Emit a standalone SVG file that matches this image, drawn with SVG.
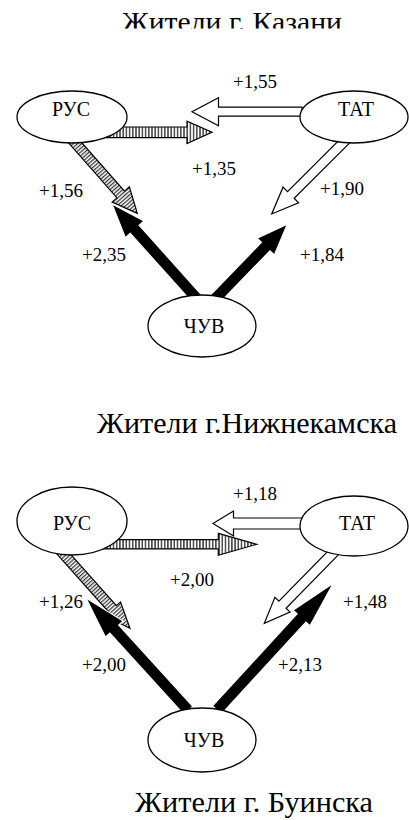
<svg xmlns="http://www.w3.org/2000/svg" width="409" height="820" viewBox="0 0 409 820">
<style>
  .node { fill: #fff; stroke: #000; stroke-width: 1.3; }
  .hollow { fill: #fff; stroke: #000; stroke-width: 1.2; stroke-linejoin: miter; }
  .hatchv { fill: url(#hv); stroke: #000; stroke-width: 1.2; }
  .hatchd { fill: url(#hd); stroke: #000; stroke-width: 1.2; }
  .solid { fill: #000; stroke: #fff; stroke-width: 1.2; }
</style>
<defs>
  <pattern id="hv" patternUnits="userSpaceOnUse" width="3.2" height="10">
    <rect width="3.2" height="10" fill="#fff"/>
    <line x1="0.8" y1="0" x2="0.8" y2="10" stroke="#000" stroke-width="1.1"/>
  </pattern>
  <pattern id="hd" patternUnits="userSpaceOnUse" width="2.8" height="10">
    <rect width="2.8" height="10" fill="#fff"/>
    <line x1="0.7" y1="0" x2="0.7" y2="10" stroke="#000" stroke-width="1"/>
  </pattern>
  <clipPath id="clipTitle1">
    <rect x="0" y="0" width="409" height="28.5"/>
  </clipPath>
</defs>

<g id="titles">
  <text font-family="Liberation Serif" font-size="28" x="122" y="31" textLength="220" lengthAdjust="spacingAndGlyphs" clip-path="url(#clipTitle1)">Жители г. Казани</text>
  <text font-family="Liberation Serif" font-size="30" x="97" y="433" textLength="300" lengthAdjust="spacingAndGlyphs">Жители г.Нижнекамска</text>
  <text font-family="Liberation Serif" font-size="30" x="135" y="812" textLength="238" lengthAdjust="spacingAndGlyphs">Жители г. Буинска</text>
</g>

<g id="connectors">
  <polygon id="c-tat-rus-1" class="hollow" transform="translate(192,111.7) rotate(180)" points="-110,-4.5 -26.5,-4.5 -26.5,-14 0,0 -26.5,14 -26.5,4.5 -110,4.5"/>
  <polygon id="c-rus-right-1" class="hatchv" transform="translate(212,132.3)" points="-117,-5.3 -25,-5.3 -25,-11.2 0,0 -25,11.2 -25,5.3 -117,5.3"/>
  <polygon id="c-rus-down-1" class="hatchd" transform="translate(137.3,213.3) rotate(48.6)" points="-102,-5 -25,-5 -25,-11.5 0,0 -25,11.5 -25,5 -102,5"/>
  <polygon id="c-tat-down-1" class="hollow" transform="translate(271.7,214) rotate(135.1)" points="-108,-4.7 -27,-4.7 -27,-11 0,0 -27,11 -27,4.7 -108,4.7"/>
  <polygon id="c-chuv-left-1" class="solid" transform="translate(112,204) rotate(-131.9)" points="-132,-6 -34,-6 -34,-12.5 0,0 -34,12.5 -34,6 -132,6"/>
  <polygon id="c-chuv-right-1" class="solid" transform="translate(287.3,224.3) rotate(-45.9)" points="-106,-6 -31,-6 -31,-12 0,0 -31,12 -31,6 -106,6"/>
  <polygon id="c-tat-rus-2" class="hollow" transform="translate(213,523.5) rotate(180)" points="-89,-5.5 -20.5,-5.5 -20.5,-12.5 0,0 -20.5,12.5 -20.5,5.5 -89,5.5"/>
  <polygon id="c-rus-right-2" class="hatchv" transform="translate(256.7,544.3)" points="-162,-4.6 -38.4,-4.6 -38.4,-11 0,0 -38.4,11 -38.4,4.6 -162,4.6"/>
  <polygon id="c-rus-down-2" class="hatchd" transform="translate(130,628.3) rotate(48.2)" points="-105,-5 -26,-5 -26,-10.5 0,0 -26,10.5 -26,5 -105,5"/>
  <polygon id="c-tat-down-2" class="hollow" transform="translate(264.3,623.3) rotate(134.4)" points="-101,-5 -26,-5 -26,-10.6 0,0 -26,10.6 -26,5 -101,5"/>
  <polygon id="c-chuv-left-2" class="solid" transform="translate(86,598) rotate(-132.3)" points="-152,-6 -42,-6 -42,-12 0,0 -42,12 -42,6 -152,6"/>
  <polygon id="c-chuv-right-2" class="solid" transform="translate(333.3,583.3) rotate(-47.45)" points="-172,-6 -47,-6 -47,-11.5 0,0 -47,11.5 -47,6 -172,6"/>
</g>

<g id="edge-labels">
  <text font-family="Liberation Serif" font-size="19" x="233" y="88">+1,55</text>
  <text font-family="Liberation Serif" font-size="19" x="192" y="175">+1,35</text>
  <text font-family="Liberation Serif" font-size="19" x="39" y="197">+1,56</text>
  <text font-family="Liberation Serif" font-size="19" x="320" y="195">+1,90</text>
  <text font-family="Liberation Serif" font-size="19" x="82" y="261">+2,35</text>
  <text font-family="Liberation Serif" font-size="19" x="300" y="261">+1,84</text>
  <text font-family="Liberation Serif" font-size="19" x="233" y="500">+1,18</text>
  <text font-family="Liberation Serif" font-size="19" x="170" y="586">+2,00</text>
  <text font-family="Liberation Serif" font-size="19" x="39" y="608">+1,26</text>
  <text font-family="Liberation Serif" font-size="19" x="343" y="608">+1,48</text>
  <text font-family="Liberation Serif" font-size="19" x="82" y="671">+2,00</text>
  <text font-family="Liberation Serif" font-size="19" x="278" y="671">+2,13</text>
</g>

<g id="node-rus-1"><ellipse class="node" cx="72" cy="117" rx="55" ry="26"/><text font-family="Liberation Serif" font-size="20" text-anchor="middle" x="71" y="116">РУС</text></g>
<g id="node-tat-1"><ellipse class="node" cx="354" cy="117" rx="54" ry="26"/><text font-family="Liberation Serif" font-size="20" text-anchor="middle" x="356" y="116">ТАТ</text></g>
<g id="node-chuv-1"><ellipse class="node" cx="202" cy="326" rx="54" ry="31"/><text font-family="Liberation Serif" font-size="20" text-anchor="middle" x="204" y="333">ЧУВ</text></g>
<g id="node-rus-2"><ellipse class="node" cx="72" cy="521" rx="55" ry="34"/><text font-family="Liberation Serif" font-size="20" text-anchor="middle" x="72" y="530">РУС</text></g>
<g id="node-tat-2"><ellipse class="node" cx="354" cy="526" rx="54" ry="30"/><text font-family="Liberation Serif" font-size="20" text-anchor="middle" x="357" y="530">ТАТ</text></g>
<g id="node-chuv-2"><ellipse class="node" cx="202" cy="740" rx="54" ry="32"/><text font-family="Liberation Serif" font-size="20" text-anchor="middle" x="204" y="747">ЧУВ</text></g>
</svg>
